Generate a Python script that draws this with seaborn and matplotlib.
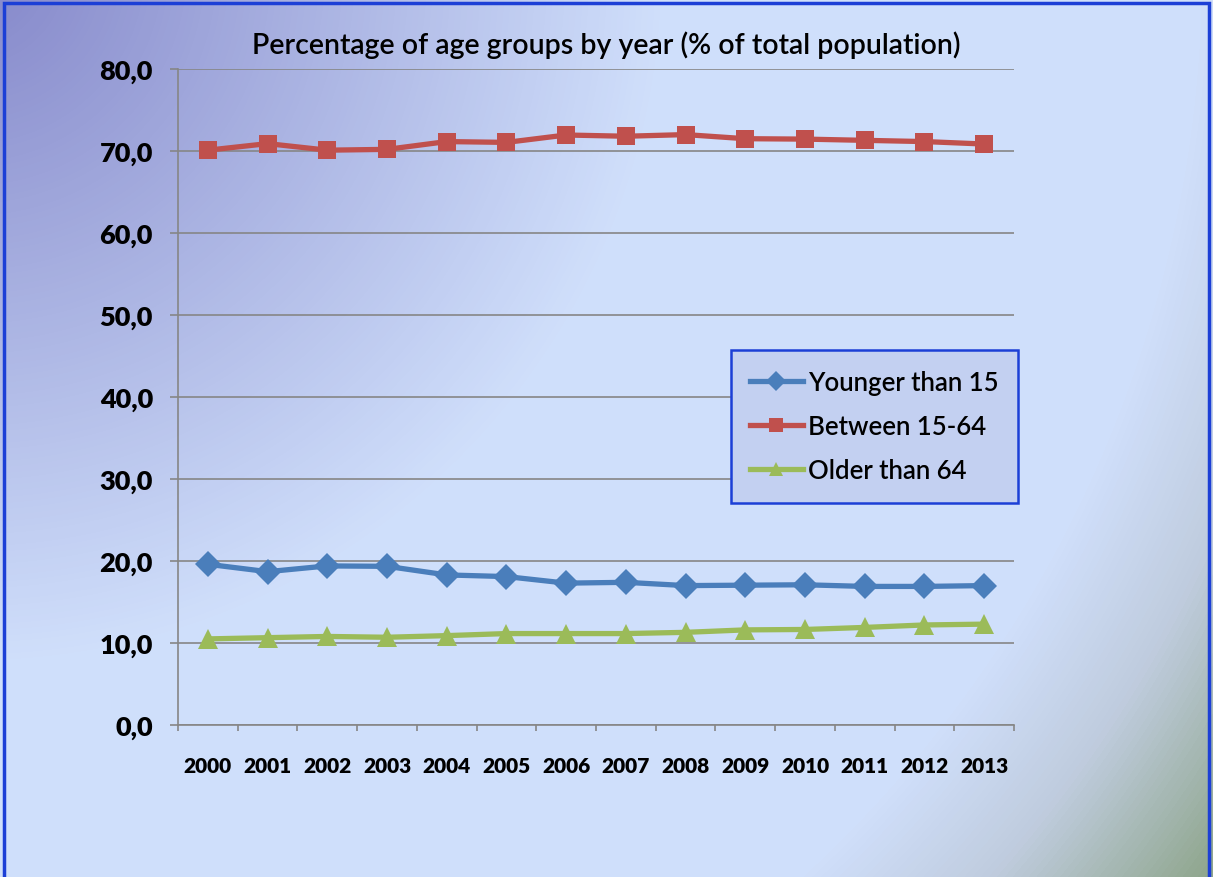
import numpy as np
import pandas as pd
import seaborn as sns
import matplotlib.pyplot as plt
from matplotlib.colors import LinearSegmentedColormap
from matplotlib.patches import Rectangle
from matplotlib.ticker import FuncFormatter, FixedLocator

# data
years = [2000, 2001, 2002, 2003, 2004, 2005, 2006, 2007, 2008, 2009, 2010, 2011, 2012, 2013]
younger_15 = [19.6, 18.7, 19.4, 19.35, 18.3, 18.1, 17.3, 17.4, 17.0, 17.05, 17.1, 16.9, 16.9, 17.0]
between_15_64 = [70.1, 70.9, 70.1, 70.2, 71.15, 71.05, 71.95, 71.8, 72.0, 71.5, 71.45, 71.3, 71.15, 70.85]
older_64 = [10.5, 10.65, 10.8, 10.7, 10.9, 11.15, 11.15, 11.15, 11.3, 11.6, 11.65, 11.9, 12.2, 12.3]
series_names = ['Younger than 15', 'Between 15-64', 'Older than 64']
y_ticks = [0, 10, 20, 30, 40, 50, 60, 70, 80]

df = pd.DataFrame({'Year': years,
                   series_names[0]: younger_15,
                   series_names[1]: between_15_64,
                   series_names[2]: older_64})
df_long = df.melt(id_vars='Year', var_name='Group', value_name='Value')

palette = {series_names[0]: '#4A7EBB', series_names[1]: '#C0504D', series_names[2]: '#9BBB59'}
markers = {series_names[0]: 'D', series_names[1]: 's', series_names[2]: '^'}
msizes = {series_names[0]: 13, series_names[1]: 12.5, series_names[2]: 14.5}

plt.rcParams['font.family'] = ['Lato', 'DejaVu Sans']

fig = plt.figure(figsize=(12.13, 8.78), dpi=100)

# background: radial gradient from the top-left corner, greyish green in the bottom-right
bg = fig.add_axes([0, 0, 1, 1], zorder=-10)
W, H = 1213, 878
yy, xx = np.mgrid[0:H, 0:W]
r = np.sqrt((xx + 30.0) ** 2 + (yy + 30.0) ** 2)
bg_cmap = LinearSegmentedColormap.from_list('bg', [
    (0.0, (0.52, 0.53, 0.79)),
    (0.45, (0.815, 0.875, 0.985)),
    (0.80, (0.815, 0.875, 0.985)),
    (0.89, (0.75, 0.80, 0.87)),
    (1.0, (0.56, 0.65, 0.55))])
bg.imshow(r / r.max(), cmap=bg_cmap, vmin=0, vmax=1, aspect='auto', interpolation='bilinear')
bg.axis('off')
fig.patches.append(Rectangle((0.003, -0.01), 0.994, 1.005, transform=fig.transFigure,
                             fill=False, edgecolor='#1c3fd6', linewidth=2.5))

ax = fig.add_axes([178 / W, 1 - 726 / H, (1014 - 178) / W, (726 - 70) / H])
ax.set_facecolor('none')

sns.lineplot(data=df_long, x='Year', y='Value', hue='Group', style='Group',
             palette=palette, markers=markers, dashes=False, linewidth=3.8,
             markeredgewidth=0, ax=ax, legend=False)
for line, name in zip(ax.get_lines(), series_names):
    line.set_markersize(msizes[name])
    line.set_zorder(3)

ax.set_xlim(years[0] - 0.5, years[-1] + 0.5)
ax.set_ylim(0, 80)
ax.set_xlabel('')
ax.set_ylabel('')

ax.yaxis.set_major_locator(FixedLocator(y_ticks))
ax.yaxis.set_major_formatter(FuncFormatter(lambda v, p: f'{v:.1f}'.replace('.', ',')))
ax.xaxis.set_major_locator(FixedLocator(years))
ax.xaxis.set_minor_locator(FixedLocator([y - 0.5 for y in years] + [years[-1] + 0.5]))
ax.xaxis.set_major_formatter(FuncFormatter(lambda v, p: str(int(v))))

ax.grid(axis='y', color='#868686', linewidth=1.2)
ax.set_axisbelow(True)
for s in ['top', 'right']:
    ax.spines[s].set_visible(False)
for s in ['left', 'bottom']:
    ax.spines[s].set_color('#868686')
    ax.spines[s].set_linewidth(1.2)

ax.tick_params(axis='y', length=6, width=1.2, color='#868686', pad=12,
               labelsize=19.5, labelcolor='black')
ax.tick_params(axis='x', which='major', length=0, pad=22, labelsize=15, labelcolor='black')
ax.tick_params(axis='x', which='minor', length=4.5, width=1.2, color='#868686')
for lab in ax.get_xticklabels() + ax.get_yticklabels():
    lab.set_fontweight('heavy')

fig.text(606 / W, 1 - 45 / H, 'Percentage of age groups by year (% of total population)',
         ha='center', va='center', fontsize=20.5, fontweight='semibold', color='black')

# legend built from the plotted lines
handles = ax.get_lines()[:3]
leg = ax.legend(handles, series_names, loc='upper left', bbox_to_anchor=(0.661, 0.571),
                prop={'size': 18.5, 'weight': 'semibold'}, frameon=True, fancybox=False,
                handlelength=2.05, handletextpad=0.2, labelspacing=0.75, borderpad=0.75,
                borderaxespad=0)
leg.get_frame().set_facecolor('#c3d0f1')
leg.get_frame().set_alpha(1)
leg.get_frame().set_edgecolor('#1c3fd6')
leg.get_frame().set_linewidth(1.8)
for h in leg.legend_handles:
    h.set_markersize(10)

fig.savefig('out.png', dpi=100)
